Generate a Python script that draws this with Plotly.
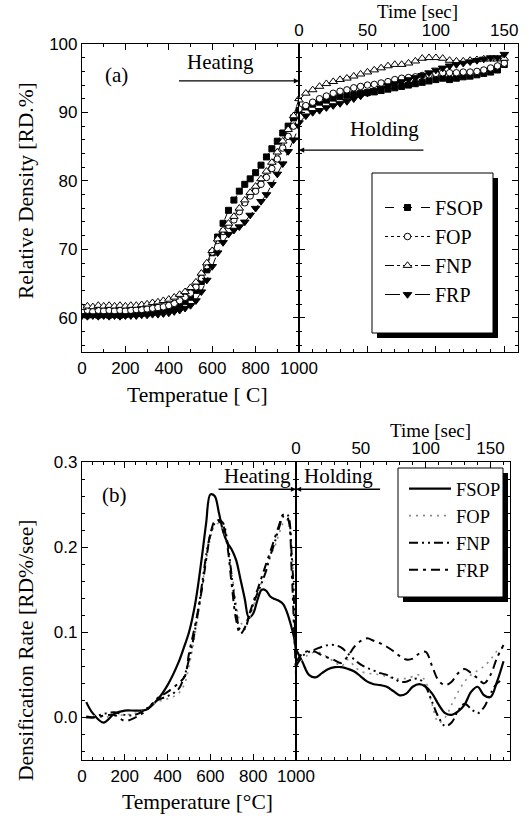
import plotly.graph_objects as go

# ---------------- data: panel (a) ----------------
temp_a = [0, 25, 50, 75, 100, 125, 150, 175, 200, 225, 250, 275, 300, 325, 350, 375, 400,
          425, 450, 475, 500, 525, 550, 575, 600, 625, 650, 675, 700, 725, 750, 775, 800,
          825, 850, 875, 900, 925, 950, 975, 1000]
fsop_a_temp = [60.5, 60.4, 60.5, 60.4, 60.5, 60.4, 60.5, 60.4, 60.5, 60.6, 60.6, 60.7, 60.7, 60.8,
               60.9, 61.0, 61.2, 61.5, 61.9, 62.4, 63.0, 64.0, 65.3, 67.0, 69.5, 71.8, 73.8, 75.7,
               77.2, 78.5, 79.5, 80.3, 81.2, 82.3, 83.5, 84.7, 85.8, 87.0, 88.0, 89.2, 90.3]
fop_a_temp = [61.0, 61.1, 60.9, 61.1, 61.0, 61.1, 61.0, 61.1, 61.0, 61.1, 61.2, 61.2, 61.3, 61.4,
              61.5, 61.6, 61.8, 62.1, 62.5, 63.0, 63.6, 64.5, 65.8, 67.6, 69.6, 71.3, 72.6, 73.5,
              74.3, 75.5, 76.8, 77.8, 78.5, 79.5, 80.5, 81.8, 83.2, 84.8, 86.5, 88.0, 89.5]
fnp_a_temp = [61.5, 61.7, 61.6, 61.8, 61.7, 61.8, 61.7, 61.8, 61.7, 61.8, 61.8, 61.9, 62.0, 62.2,
              62.3, 62.5, 62.7, 63.0, 63.4, 63.8, 64.4, 65.2, 66.5, 68.0, 69.8, 71.5, 72.8, 73.8,
              74.8, 76.0, 77.2, 78.3, 79.2, 80.3, 81.4, 82.7, 84.2, 85.8, 87.5, 89.5, 92.0]
frp_a_temp = [60.3, 60.2, 60.3, 60.2, 60.3, 60.2, 60.3, 60.2, 60.3, 60.3, 60.3, 60.4, 60.4, 60.5,
              60.5, 60.6, 60.7, 60.9, 61.1, 61.4, 61.8, 62.5, 63.8, 65.5, 67.5, 69.5, 71.0, 72.2,
              72.8, 73.3, 74.0, 75.0, 76.0, 77.0, 78.0, 79.5, 81.0, 82.5, 84.3, 86.0, 88.0]

time_a = [0, 5, 10, 15, 20, 25, 30, 35, 40, 45, 50, 55, 60, 65, 70, 75, 80, 85, 90, 95, 100,
          105, 110, 115, 120, 125, 130, 135, 140, 145, 150]
fsop_a_time = [90.3, 90.8, 91.2, 91.5, 91.8, 92.1, 92.3, 92.5, 92.6, 92.8, 92.9, 93.0, 93.2, 93.4,
               93.6, 93.8, 94.0, 94.2, 94.4, 94.6, 94.8, 95.0, 94.8, 95.0, 95.2, 95.3, 95.5, 95.7,
               95.9, 96.2, 97.0]
fop_a_time = [90.5, 91.0, 91.5, 92.0, 92.4, 92.8, 93.1, 93.3, 93.6, 93.8, 94.0, 94.1, 94.3, 94.5,
              94.8, 95.0, 95.1, 95.2, 95.4, 95.5, 95.7, 95.8, 95.8, 95.8, 95.9, 95.9, 96.0, 96.2,
              96.5, 96.8, 97.2]
fnp_a_time = [91.8, 92.8, 93.3, 93.8, 94.2, 94.5, 94.8, 95.0, 95.3, 95.6, 95.9, 96.2, 96.5, 96.8,
              97.0, 97.0, 97.2, 97.5, 97.9, 98.0, 98.0, 97.9, 97.6, 97.5, 97.5, 97.6, 97.7, 97.8,
              97.8, 97.8, 97.9]
frp_a_time = [88.5, 89.5, 90.0, 90.3, 90.7, 91.0, 91.3, 91.6, 92.0, 92.4, 92.8, 93.2, 93.5, 93.9,
              94.2, 94.5, 94.8, 95.1, 95.4, 95.8, 96.2, 96.5, 96.8, 97.0, 97.2, 97.4, 97.6, 97.8,
              98.0, 98.0, 98.5]

# ---------------- data: panel (b) ----------------
temp_b = [20, 50, 100, 150, 200, 250, 300, 350, 400, 450, 480, 500, 530, 560, 580, 600, 620,
          640, 660, 680, 700, 720, 740, 760, 780, 800, 820, 840, 860, 880, 900, 920, 940, 960,
          980, 990, 1000]
fsop_b_temp = [0.018, 0.005, -0.006, 0.004, 0.008, 0.008, 0.009, 0.02, 0.038, 0.064, 0.085, 0.1,
               0.135, 0.188, 0.228, 0.262, 0.26, 0.24, 0.218, 0.205, 0.197, 0.185, 0.163, 0.14,
               0.117, 0.122, 0.138, 0.15, 0.149, 0.142, 0.139, 0.137, 0.133, 0.122, 0.105, 0.095,
               0.08]
fop_b_temp = [0.0, 0.002, 0.0, 0.002, 0.003, 0.005, 0.01, 0.018, 0.022, 0.028, 0.04, 0.06, 0.1,
              0.15, 0.185, 0.21, 0.225, 0.228, 0.22, 0.2, 0.17, 0.135, 0.112, 0.108, 0.115, 0.13,
              0.145, 0.16, 0.175, 0.19, 0.2, 0.215, 0.228, 0.232, 0.2, 0.15, 0.075]
fnp_b_temp = [0.0, 0.0, 0.004, 0.006, 0.003, 0.003, 0.01, 0.02, 0.025, 0.033, 0.05, 0.068, 0.105,
              0.155, 0.19, 0.215, 0.228, 0.232, 0.228, 0.205, 0.165, 0.125, 0.103, 0.104, 0.118,
              0.133, 0.146, 0.158, 0.172, 0.19, 0.205, 0.222, 0.236, 0.238, 0.19, 0.14, 0.07]
frp_b_temp = [0.001, 0.0, 0.002, 0.003, -0.004, 0.0, 0.008, 0.022, 0.03, 0.04, 0.048, 0.075, 0.11,
              0.15, 0.185, 0.215, 0.23, 0.23, 0.225, 0.2, 0.155, 0.115, 0.098, 0.105, 0.12, 0.135,
              0.15, 0.165, 0.18, 0.195, 0.21, 0.225, 0.238, 0.235, 0.17, 0.11, 0.05]

time_b = [0, 5, 10, 15, 20, 25, 30, 35, 40, 45, 50, 55, 60, 65, 70, 75, 80, 85, 90, 95, 100,
          105, 110, 115, 120, 125, 130, 135, 140, 145, 150, 155, 160]
fsop_b_time = [0.08, 0.065, 0.05, 0.047, 0.052, 0.057, 0.059, 0.059, 0.057, 0.054, 0.048, 0.042,
               0.039, 0.038, 0.036, 0.031, 0.026, 0.028, 0.036, 0.039, 0.036, 0.028, 0.015, 0.005,
               0.003, 0.007, 0.015, 0.03, 0.036, 0.026, 0.024, 0.042, 0.066]
fop_b_time = [0.06, 0.068, 0.074, 0.077, 0.075, 0.07, 0.065, 0.06, 0.068, 0.06, 0.054, 0.052,
              0.051, 0.05, 0.048, 0.046, 0.045, 0.046, 0.048, 0.05, 0.042, 0.015, -0.006, 0.0,
              0.015, 0.03, 0.042, 0.05, 0.055, 0.06, 0.068, 0.078, 0.082]
fnp_b_time = [0.06, 0.072, 0.077, 0.08, 0.083, 0.085, 0.085, 0.082, 0.075, 0.068, 0.062, 0.058,
              0.055, 0.052, 0.05, 0.046, 0.042, 0.042, 0.045, 0.045, 0.036, 0.018, 0.0, -0.01,
              -0.006, 0.008, 0.016, 0.01, 0.005, 0.012, 0.028, 0.04, 0.045]
frp_b_time = [0.065, 0.075, 0.078, 0.077, 0.073, 0.07, 0.067, 0.064, 0.072, 0.083, 0.09, 0.093,
              0.09, 0.087, 0.083, 0.078, 0.072, 0.068, 0.069, 0.075, 0.077, 0.06, 0.043, 0.038,
              0.042, 0.052, 0.057, 0.052, 0.046, 0.04, 0.05, 0.07, 0.085]

names = ["FSOP", "FOP", "FNP", "FRP"]
y_ticks_a = [60, 70, 80, 90, 100]
y_ticks_b = [0.0, 0.1, 0.2, 0.3]
y_ticktext_b = ["0.0", "0.1", "0.2", "0.3"]
temp_ticks = [0, 200, 400, 600, 800, 1000]
time_ticks = [0, 50, 100, 150]

# ---------------- styles ----------------
SERIF = "Liberation Serif"
SANS = "Liberation Sans"
W, H = 529, 816

def px_x(p):
    return p / W

def px_y(p):
    return 1 - p / H

marker_a = [
    dict(symbol="square", size=6, color="black", line=dict(color="black", width=1)),
    dict(symbol="circle", size=6.5, color="white", line=dict(color="black", width=1)),
    dict(symbol="triangle-up", size=7.5, color="white", line=dict(color="black", width=1)),
    dict(symbol="triangle-down", size=7.5, color="black", line=dict(color="black", width=1)),
]
dash_a = ["dash", "dot", "dashdot", "longdashdot"]

line_b = [
    dict(color="black", width=2.2, dash="solid"),
    dict(color="#8a8a8a", width=1.6, dash="2px,5px"),
    dict(color="black", width=2, dash="9px,4px,2px,4px,2px,4px"),
    dict(color="black", width=2, dash="9px,5px,3px,5px"),
]

fig = go.Figure()

series_a = [(fsop_a_temp, fsop_a_time), (fop_a_temp, fop_a_time),
            (fnp_a_temp, fnp_a_time), (frp_a_temp, frp_a_time)]
for i, (yt, ys) in enumerate(series_a):
    fig.add_trace(go.Scatter(x=temp_a, y=yt, mode="lines+markers", name=names[i],
                             legend="legend", legendgroup="a" + names[i],
                             line=dict(color="black", width=1, dash=dash_a[i]),
                             marker=marker_a[i], xaxis="x", yaxis="y"))
    fig.add_trace(go.Scatter(x=time_a, y=ys, mode="lines+markers", name=names[i],
                             legendgroup="a" + names[i], showlegend=False,
                             line=dict(color="black", width=1, dash=dash_a[i]),
                             marker=marker_a[i], xaxis="x2", yaxis="y2"))

series_b = [(fsop_b_temp, fsop_b_time), (fop_b_temp, fop_b_time),
            (fnp_b_temp, fnp_b_time), (frp_b_temp, frp_b_time)]
for i, (yt, ys) in enumerate(series_b):
    fig.add_trace(go.Scatter(x=temp_b, y=yt, mode="lines", name=names[i],
                             legend="legend2", legendgroup="b" + names[i],
                             line=dict(shape="spline", smoothing=1.0, **line_b[i]),
                             xaxis="x3", yaxis="y3"))
    fig.add_trace(go.Scatter(x=time_b, y=ys, mode="lines", name=names[i],
                             legend="legend2", legendgroup="b" + names[i], showlegend=False,
                             line=dict(shape="spline", smoothing=1.0, **line_b[i]),
                             xaxis="x4", yaxis="y4"))

# ---------------- axes ----------------
tickfont = dict(family=SANS, size=17, color="black")
common = dict(showline=True, linecolor="black", linewidth=1.2, ticks="inside",
              tickcolor="black", ticklen=6, tickwidth=1.2, mirror="ticks",
              showgrid=False, zeroline=False, tickfont=tickfont, automargin=False)

def minor(d):
    return dict(dtick=d, ticklen=3, ticks="inside", tickcolor="black", tickwidth=1,
                showgrid=False)

# panel (a)
xa_l, xa_d, xa_r = px_x(82), px_x(299), px_x(518)
ya_b, ya_t = px_y(352), px_y(44)
# panel (b)
xb_l, xb_d, xb_r = px_x(82), px_x(296), px_x(510)
yb_b, yb_t = px_y(760), px_y(462)

fig.update_layout(
    template="none",
    xaxis=dict(domain=[xa_l, xa_d], range=[0, 1000], anchor="y", tickvals=temp_ticks,
               minor=minor(100), **common),
    xaxis2=dict(domain=[xa_d, xa_r], range=[0, 160], anchor="y2", side="top",
                tickvals=time_ticks, minor=minor(10), **common),
    yaxis=dict(domain=[ya_b, ya_t], range=[55, 100], anchor="x", tickvals=y_ticks_a,
               minor=minor(2), **common),
    yaxis2=dict(domain=[ya_b, ya_t], range=[55, 100], anchor="x2", tickvals=y_ticks_a,
                showticklabels=False, minor=minor(2), **common),
    xaxis3=dict(domain=[xb_l, xb_d], range=[0, 1000], anchor="y3", tickvals=temp_ticks,
                minor=minor(50), **common),
    xaxis4=dict(domain=[xb_d, xb_r], range=[0, 165], anchor="y4", side="top",
                tickvals=time_ticks, minor=minor(10), **common),
    yaxis3=dict(domain=[yb_b, yb_t], range=[-0.05, 0.3], anchor="x3", tickvals=y_ticks_b,
                ticktext=y_ticktext_b, minor=minor(0.02), **common),
    yaxis4=dict(domain=[yb_b, yb_t], range=[-0.05, 0.3], anchor="x4", tickvals=y_ticks_b,
                showticklabels=False, minor=minor(0.02), **common),
)

# ---------------- legends (box drawn as shapes with shadow) ----------------
fig.update_layout(
    legend=dict(x=px_x(380), y=px_y(188), xanchor="left", yanchor="top",
                bgcolor="rgba(0,0,0,0)", borderwidth=0,
                font=dict(family=SERIF, size=20, color="black"),
                tracegroupgap=0, itemwidth=45),
    legend2=dict(x=px_x(404), y=px_y(470), xanchor="left", yanchor="top",
                 bgcolor="rgba(0,0,0,0)", borderwidth=0,
                 font=dict(family=SERIF, size=18.5, color="black"),
                 tracegroupgap=0, itemwidth=42),
)

shapes = []
for (x0, y0, x1, y1) in [(372, 173, 493, 333), (398, 468, 503, 597)]:
    shapes.append(dict(type="rect", xref="paper", yref="paper", layer="below",
                       x0=px_x(x0 + 5), x1=px_x(x1 + 5), y0=px_y(y1 + 5), y1=px_y(y0 + 5),
                       fillcolor="black", line=dict(width=0)))
    shapes.append(dict(type="rect", xref="paper", yref="paper", layer="below",
                       x0=px_x(x0), x1=px_x(x1), y0=px_y(y1), y1=px_y(y0),
                       fillcolor="white", line=dict(color="black", width=1)))
fig.update_layout(shapes=shapes)

# ---------------- annotations ----------------
title_font = dict(family=SERIF, size=21.5, color="black")
ann = [
    # axis titles
    dict(text="Relative Density [RD.%]", x=px_x(26), y=px_y(191), textangle=-90, font=title_font),
    dict(text="Temperatue [ C]", x=px_x(197), y=px_y(395), font=title_font),
    dict(text="Time [sec]", x=px_x(417), y=px_y(12), font=dict(family=SERIF, size=19, color="black")),
    dict(text="Densification Rate [RD%/see]", x=px_x(26), y=px_y(650), textangle=-90, font=title_font),
    dict(text="Temperature [°C]", x=px_x(197), y=px_y(802), font=title_font),
    dict(text="Time [sec]", x=px_x(430), y=px_y(430), font=dict(family=SERIF, size=19, color="black")),
]
for a in ann:
    a.update(xref="paper", yref="paper", showarrow=False, xanchor="center", yanchor="middle")

lab_font = dict(family=SERIF, size=21, color="black")
labels = [
    dict(text="(a)", x=161, y=95.5, xref="x", yref="y"),
    dict(text="Heating", x=636, y=97.4, xref="x", yref="y"),
    dict(text="Holding", x=62.6, y=87.6, xref="x2", yref="y2"),
    dict(text="(b)", x=154, y=0.261, xref="x3", yref="y3"),
    dict(text="Heating", x=822, y=0.284, xref="x3", yref="y3"),
    dict(text="Holding", x=33, y=0.284, xref="x4", yref="y4"),
]
for a in labels:
    a.update(showarrow=False, font=lab_font, xanchor="center", yanchor="middle")

arrows = [
    dict(x=1000, y=94.6, ax=440, ay=94.6, xref="x", yref="y", axref="x", ayref="y"),
    dict(x=0, y=84.5, ax=92, ay=84.5, xref="x2", yref="y2", axref="x2", ayref="y2"),
    dict(x=1000, y=0.268, ax=631, ay=0.268, xref="x3", yref="y3", axref="x3", ayref="y3"),
    dict(x=0, y=0.268, ax=66, ay=0.268, xref="x4", yref="y4", axref="x4", ayref="y4"),
]
for a in arrows:
    a.update(text="", showarrow=True, arrowhead=2, arrowsize=0.8, arrowwidth=1.3,
             arrowcolor="black")

fig.update_layout(annotations=ann + labels + arrows)

fig.update_layout(width=W, height=H, margin=dict(l=0, r=0, t=0, b=0, pad=0),
                  paper_bgcolor="white", plot_bgcolor="white", showlegend=True,
                  font=dict(family=SERIF, color="black"))

fig.write_html("out.html")
